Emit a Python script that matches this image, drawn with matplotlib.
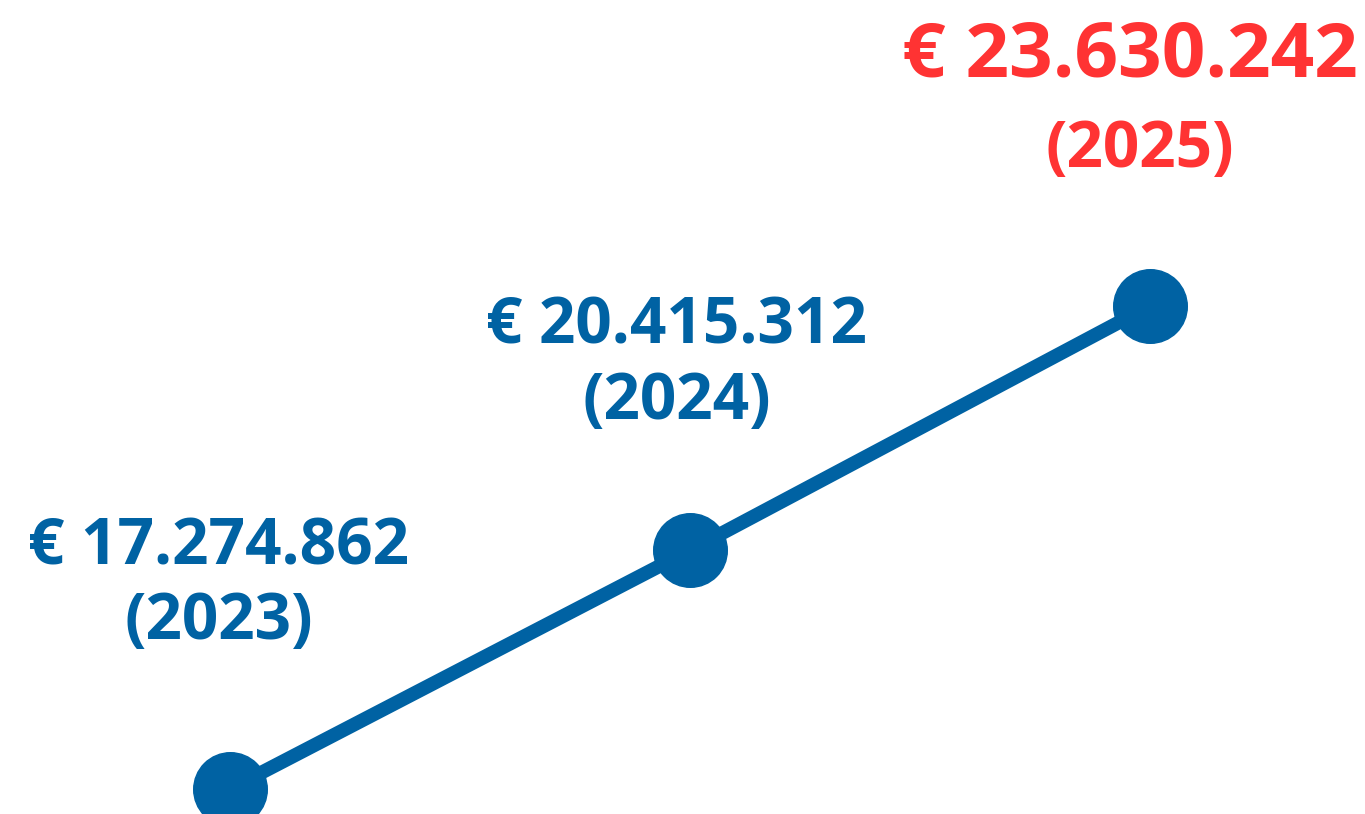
import matplotlib
matplotlib.use('Agg')
import matplotlib.pyplot as plt

# Datos
anios = ['2023', '2024', '2025']
importes = [17274862, 20415312, 23630242]
etiquetas = ['€ 17.274.862', '€ 20.415.312', '€ 23.630.242']

azul = '#0062A3'
rojo = '#FF3333'

# desplazamientos de las etiquetas (px): (dx1, dy1, dx2, dy2)
desplaz = [(-12, 224, -11, 150), (-14, 207, -13, 131), (-20, 229, -10, 139)]

plt.rcParams['font.family'] = ['Open Sans', 'DejaVu Sans']

fig = plt.figure(figsize=(13.65, 8.14), dpi=100)
ax = fig.add_axes([0, 0, 1, 1])

x = list(range(len(anios)))
y = [v / 1e6 for v in importes]

ax.plot(x, y, color=azul, linewidth=10, solid_capstyle='round', zorder=2)
ax.plot(x, y, 'o', color=azul, markersize=53, zorder=3, clip_on=False)

ax.set_xlim(-0.5, 2.467)
ax.set_ylim(16.945, 27.652)
ax.axis('off')

# Etiquetas
for i, (xi, yi) in enumerate(zip(x, y)):
    ultimo = i == len(x) - 1
    color = rojo if ultimo else azul
    size = 55 if ultimo else 46
    dx1, dy1, dx2, dy2 = desplaz[i]
    ax.annotate(etiquetas[i], (xi, yi), xytext=(dx1, dy1), textcoords='offset pixels',
                ha='center', va='baseline', fontsize=size, fontweight='bold', color=color)
    ax.annotate(f'({anios[i]})', (xi, yi), xytext=(dx2, dy2), textcoords='offset pixels',
                ha='center', va='baseline', fontsize=46, fontweight='bold', color=color)

fig.savefig('out.png', dpi=100)
